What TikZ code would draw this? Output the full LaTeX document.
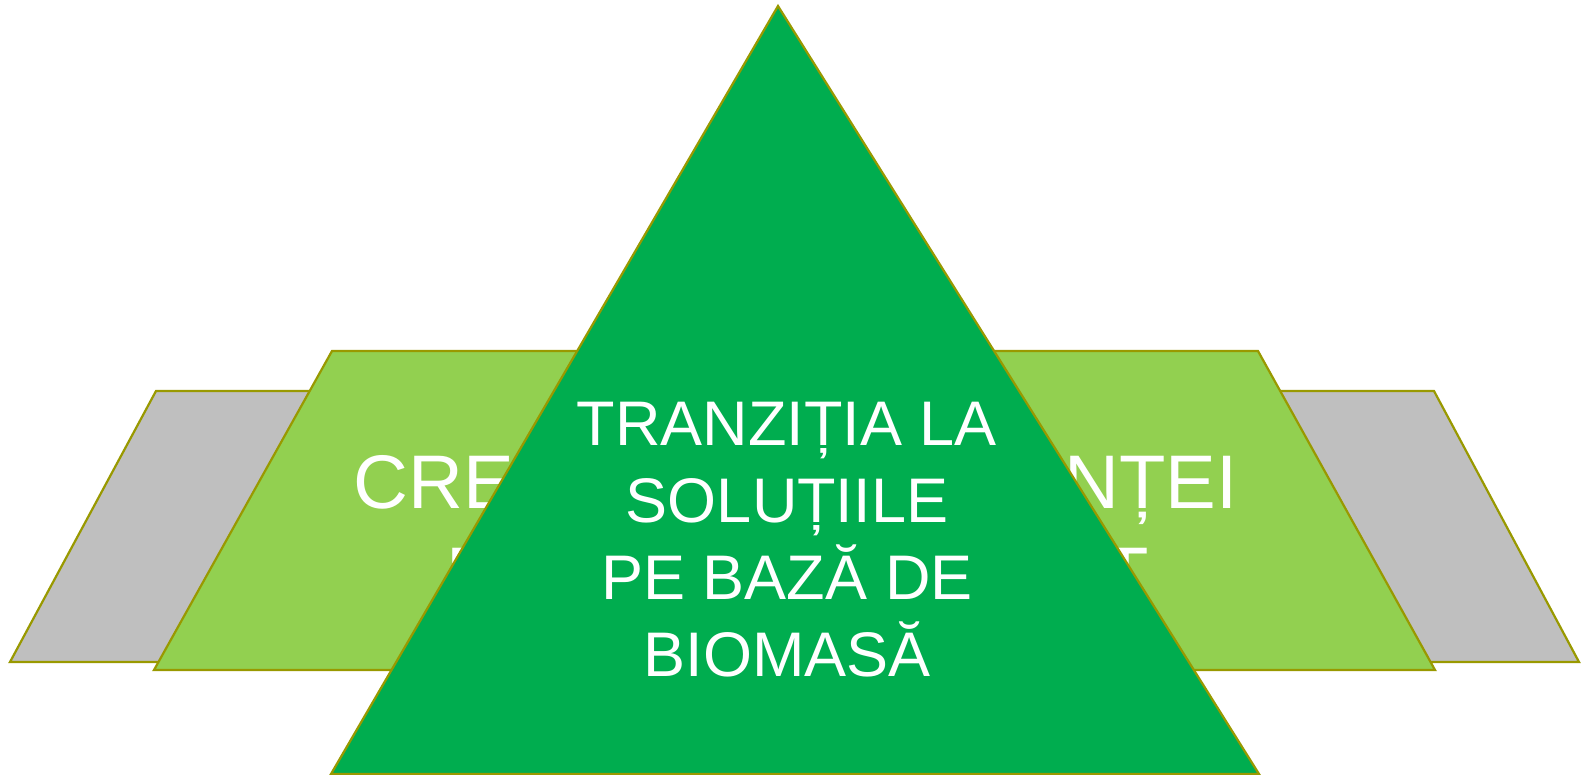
\documentclass[tikz,border=0pt]{standalone}
\usepackage{fontspec}
\setmainfont{Liberation Sans}
\definecolor{edgeolive}{RGB}{153,153,0}
\definecolor{backgray}{RGB}{191,191,191}
\definecolor{leafgreen}{RGB}{146,208,80}
\definecolor{pinegreen}{RGB}{0,173,79}
\begin{document}
\begin{tikzpicture}[x=0.5pt,y=-0.5pt,
    panel/.style={draw=edgeolive,line width=1.1pt,line join=miter},
    sidetext/.style={text=white,inner sep=0pt,font=\fontsize{38}{46}\selectfont},
    peaktext/.style={text=white,inner sep=0pt,align=center,font=\fontsize{31.5}{38.5}\selectfont}]
    \useasboundingbox (0,0) rectangle (1581,775);
    % back panels
    \draw[panel,fill=backgray] (156,391) -- (400,391) -- (400,662) -- (10,662) -- cycle;
    \draw[panel,fill=backgray] (1200,391) -- (1434,391) -- (1579,662) -- (1200,662) -- cycle;
    %
    \draw[panel,fill=leafgreen] (332,351) -- (700,351) -- (700,670) -- (154,670) -- cycle;
    \draw[panel,fill=leafgreen] (900,351) -- (1258,351) -- (1435,670) -- (900,670) -- cycle;
    \node[sidetext,anchor=base west] (cre) at (353,509) {CRE};
    \node[sidetext,anchor=base west] (crebis) at (446,600) {E};
    \node[sidetext,anchor=base east] (ntei) at (1238,509) {NȚEI};
    \node[sidetext,anchor=base east] (nteibis) at (1149,600) {T};
    %
    \draw[panel,fill=pinegreen] (778,6) -- (1259,774) -- (331,774) -- cycle;
    \node[peaktext,anchor=north] (peak) at (787,402) {TRANZIȚIA LA\\SOLUȚIILE\\PE BAZĂ DE\\BIOMASĂ};
    %
\end{tikzpicture}
\end{document}
